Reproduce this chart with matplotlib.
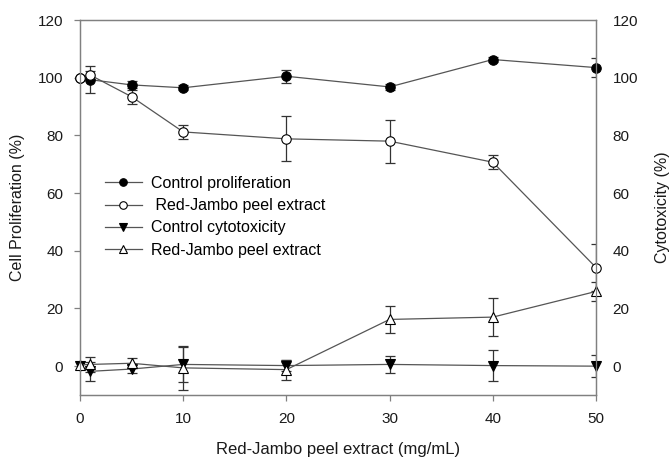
import numpy as np
import matplotlib
matplotlib.use("Agg")
import matplotlib.pyplot as plt

plt.rcParams['font.family'] = ['Liberation Sans', 'DejaVu Sans']

# concentrations (mg/mL)
conc = [0, 1, 5, 10, 20, 30, 40, 50]

ctrl_prolif = [100, 99.3, 97.5, 96.5, 100.5, 96.8, 106.3, 103.5]
ctrl_prolif_err = [0, 4.7, 1.2, 0.8, 2.2, 1.0, 0.8, 3.3]
rj_prolif = [100, 100.9, 93.4, 81.2, 78.8, 78.0, 70.7, 34.2]
rj_prolif_err = [0, 1.5, 2.5, 2.5, 7.8, 7.4, 2.5, 8.2]
ctrl_cyto = [0, -1.8, -1.0, 0.6, 0.2, 0.6, 0.2, 0.0]
ctrl_cyto_err = [0, 3.2, 1.3, 6.0, 1.8, 3.0, 5.3, 3.9]
rj_cyto = [0.4, 0.6, 1.0, -0.6, -1.2, 16.2, 17.0, 25.9]
rj_cyto_err = [0, 2.5, 1.7, 7.5, 3.5, 4.8, 6.5, 3.3]

series = [
    (ctrl_prolif, ctrl_prolif_err, 'o', 'black', "Control proliferation"),
    (rj_prolif, rj_prolif_err, 'o', 'white', " Red-Jambo peel extract"),
    (ctrl_cyto, ctrl_cyto_err, 'v', 'black', "Control cytotoxicity"),
    (rj_cyto, rj_cyto_err, '^', 'white', "Red-Jambo peel extract"),
]

spine_col = '#808080'
line_col = '#555555'
txt_col = '#1a1a1a'

fig = plt.figure(figsize=(6.7, 4.58), dpi=100)
ax = fig.add_axes([80 / 670, 63 / 458, 516 / 670, 375 / 458])

x = np.array(conc)
handles = []
for vals, errs, mk, face, lab in series:
    vals = np.array(vals)
    errs = np.array(errs)
    m = errs > 0
    ax.errorbar(x[m], vals[m], yerr=errs[m], fmt='none', ecolor='#333333',
                elinewidth=0.9, capsize=3.6, capthick=0.9, zorder=2)
    h, = ax.plot(x, vals, color=line_col, lw=0.9, marker=mk, markersize=6.8,
                 markerfacecolor=face, markeredgecolor='black', markeredgewidth=0.8,
                 label=lab, zorder=3, clip_on=False)
    handles.append(h)

ax.set_xlim(0, 50)
ax.set_ylim(-10, 120)
ax.set_xticks([0, 10, 20, 30, 40, 50])
ax.set_yticks(range(0, 121, 20))
ax.tick_params(direction='out', length=4, width=0.9, color=spine_col,
               labelsize=11, pad=8, labelcolor=txt_col)
for s in ax.spines.values():
    s.set_color(spine_col)
    s.set_linewidth(0.9)

ax.set_xlabel("Red-Jambo peel extract (mg/mL)", fontsize=12, labelpad=12, color=txt_col)
ax.set_ylabel("Cell Proliferation (%)", fontsize=11.5, labelpad=9, color=txt_col)

ax2 = ax.twinx()
ax2.set_ylim(-10, 120)
ax2.set_yticks(range(0, 121, 20))
ax2.tick_params(length=0, labelsize=11, pad=12, labelcolor=txt_col)
for s in ax2.spines.values():
    s.set_color(spine_col)
    s.set_linewidth(0.9)
ax2.set_ylabel("Cytotoxicity (%)", fontsize=11.5, labelpad=12, color=txt_col)

leg = ax.legend(handles=handles, loc='upper left', bbox_to_anchor=(97 / 670, 1 - 168 / 458),
                bbox_transform=fig.transFigure, frameon=False, fontsize=11.5,
                handlelength=2.3, handletextpad=0.6, labelspacing=0.45, borderpad=0,
                markerscale=0.8)

fig.savefig("out.png", dpi=100)
